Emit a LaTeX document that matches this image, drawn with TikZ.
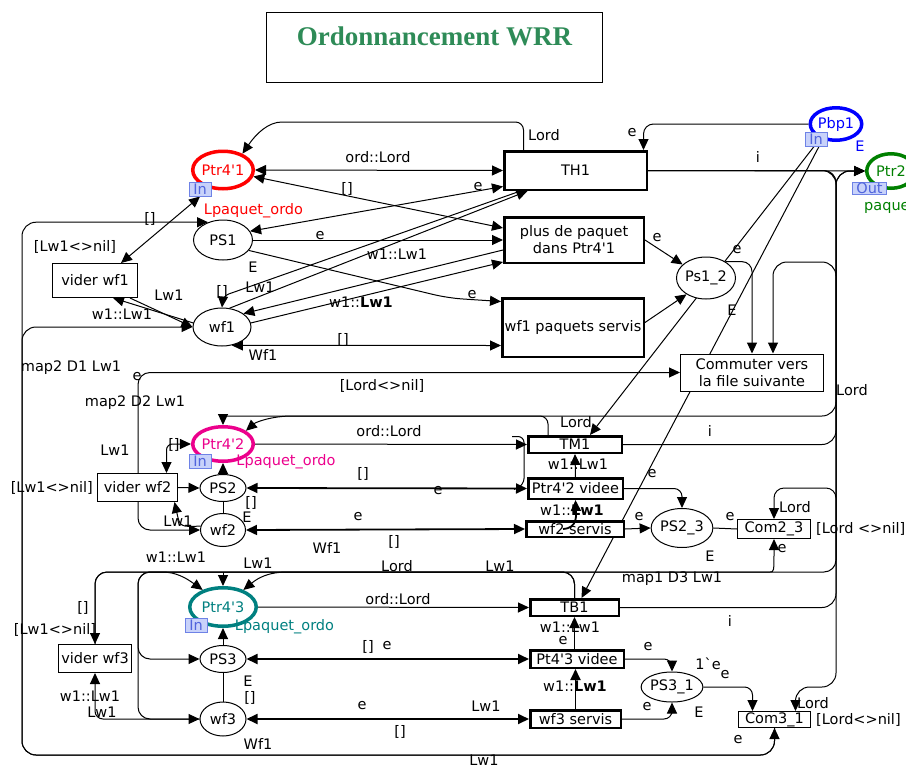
\documentclass[tikz,border=0pt]{standalone}
\usepackage{fontspec}
\setmainfont{DejaVu Sans}[Ligatures=TeXOff]
\newfontfamily\titlefont{Liberation Serif}
\usetikzlibrary{positioning, arrows.meta, backgrounds, shapes.geometric}
\definecolor{titlegreen}{RGB}{46,139,87}
\definecolor{ptrgreen}{RGB}{0,128,0}
\definecolor{ptrteal}{RGB}{0,128,128}
\definecolor{tagfill}{RGB}{200,210,250}
\definecolor{tagline}{RGB}{110,130,230}
\definecolor{tagtext}{RGB}{80,100,220}
\tikzstyle{every node}=[font=\fontsize{14.5}{17}\selectfont, inner sep=0pt]
\tikzstyle{place}=[draw,fill=white,ellipse,line width=1pt]
\tikzstyle{port}=[draw,fill=white,ellipse,line width=3.5pt]
\tikzstyle{block}=[draw,fill=white,rectangle,line width=2.5pt]
\tikzstyle{tblock}=[draw,fill=white,rectangle,line width=1pt]
\tikzstyle{tag}=[draw=tagline,fill=tagfill,text=tagtext,rectangle,line width=1pt,minimum width=22pt,minimum height=14pt]
\tikzstyle{con}=[line width=1pt]
\tikzstyle{bcon}=[line width=1.8pt]

\begin{document}
\begin{tikzpicture}[x=1pt,y=-1pt,>={Triangle[length=11pt,width=10pt]}]
    \useasboundingbox (0,0) rectangle (906,769);
    \node[draw,line width=1.5pt,minimum width=336pt,minimum height=70pt,text depth=22pt,
        font=\titlefont\bfseries\fontsize{27}{30}\selectfont,text=titlegreen] (title) at (434.5,47.5) {Ordonnancement WRR};
    % file 1
    \node[port,draw=red,text=red,minimum width=55.5pt,minimum height=37.5pt] (ptr1) at (223,170) {Ptr4'1};
    \node[tag] (in1) at (200,189) {In};
    \node[text=red] (lp1) at (253.5,211) {Lpaquet\_ordo};
    \node[place,minimum width=59pt,minimum height=40pt] (ps1) at (223,240) {PS1};
    \node[place,minimum width=58pt,minimum height=38pt] (wf1) at (222,327) {wf1};
    \node[tblock,minimum width=85pt,minimum height=34pt] (vid1) at (95,280.5) {vider wf1};
    \node (g1) at (75,247) {[Lw1<>nil]};
    \node[block,minimum width=142.5pt,minimum height=38.5pt] (th1) at (575.5,170.5) {TH1};
    \node[block,minimum width=139.5pt,minimum height=45.5pt,align=center] (plus1) at (574,240) {plus de paquet\\dans Ptr4'1};
    \node[block,minimum width=141.5pt,minimum height=58.5pt] (serv1) at (573,327.5) {wf1 paquets servis};
    \node[port,draw=blue,text=blue,minimum width=45.5pt,minimum height=32.5pt] (pbp1) at (836,124) {Pbp1};
    \node[tag] (in2) at (816,139) {In};
    \node[text=blue] (cs2) at (860,146) {E};
    \node[port,draw=ptrgreen,text=ptrgreen,minimum width=48.5pt,minimum height=34.5pt] (ptr2) at (891,171) {Ptr2};
    \node[tag,minimum width=34pt,minimum height=12pt] (out2) at (869.5,188.5) {Out};
    \node[text=ptrgreen,anchor=west] (pq2) at (864,207) {paquet};
    \node[place,minimum width=53pt,minimum height=42pt] (ps12) at (706,278) {Ps1\_2};
    \node[tblock,minimum width=143pt,minimum height=37pt,align=center] (commut) at (752,372.5) {Commuter vers\\la file suivante};
    % file 2
    \node[port,draw=magenta,text=magenta,minimum width=54.5pt,minimum height=34.5pt] (ptr4b) at (223,444) {Ptr4'2};
    \node[tag] (inB) at (200,461.5) {In};
    \node[text=magenta] (lpB) at (286,462) {Lpaquet\_ordo};
    \node[tblock,minimum width=80pt,minimum height=28pt] (vidB) at (137.5,487.5) {vider wf2};
    \node[left=4pt of vidB] (g2) {[Lw1<>nil]};
    \node[place,minimum width=46pt,minimum height=27pt] (ps2) at (223,488) {PS2};
    \node[place,minimum width=45pt,minimum height=33pt] (wf2) at (223,530) {wf2};
    \node[block,minimum width=93.5pt,minimum height=16.5pt] (tm1) at (575,444.5) {TM1};
    \node[block,minimum width=94.5pt,minimum height=20.5pt] (vide2) at (575.5,488.5) {Ptr4'2 videe};
    \node[block,minimum width=97.5pt,minimum height=15.5pt] (serv2) at (575,529) {wf2 servis};
    \node[place,minimum width=55pt,minimum height=39pt] (ps23) at (682,528) {PS2\_3};
    \node[tblock,minimum width=73pt,minimum height=19pt] (com23) at (774,529) {Com2\_3};
    \node[right=5pt of com23] (g4) {[Lord <>nil]};
    % file 3
    \node[port,draw=ptrteal,text=ptrteal,minimum width=66.5pt,minimum height=38.5pt] (ptr4c) at (223,607) {Ptr4'3};
    \node[tag] (inC) at (196,625.5) {In};
    \node[text=ptrteal] (lpC) at (284.5,627) {Lpaquet\_ordo};
    \node[tblock,minimum width=73pt,minimum height=28pt] (vid3) at (95,658.5) {vider wf3};
    \node (g3) at (55,630) {[Lw1<>nil]};
    \node[place,minimum width=46pt,minimum height=27pt] (ps3) at (223,659) {PS3};
    \node[place,minimum width=46pt,minimum height=34pt] (wf3) at (223,719) {wf3};
    \node[block,minimum width=88.5pt,minimum height=16.5pt] (tb1) at (574.5,607.5) {TB1};
    \node[block,minimum width=93.5pt,minimum height=17.5pt] (vide3) at (577,659) {Pt4'3 videe};
    \node[block,minimum width=90.5pt,minimum height=17.5pt] (serv3) at (575.5,719) {wf3 servis};
    \node[place,minimum width=57pt,minimum height=30pt] (ps31) at (672,687) {PS3\_1};
    \node[tblock,minimum width=72pt,minimum height=16pt] (com31) at (774.5,719.5) {Com3\_1};
    \node[right=5pt of com31] (g5) {[Lord<>nil]};
    % colour sets
    \node (cs1) at (253,267) {E};
    \node (cs12) at (732,310) {E};
    \node (cs23) at (710,556) {E};
    \node (cs31) at (699,712) {E};
    \node (cw1) at (263,355) {Wf1};
    \node (cw3) at (258,744) {Wf1};
    \coordinate (j2) at (223,416);
    \coordinate (j3) at (223,572);
    \coordinate (j23) at (836,560);

    \begin{scope}[on background layer]
    \draw[->,con,rounded corners=8pt] ([xshift=-52pt]th1.north) |- (290,122) .. controls (268,122) and (256,134) .. (ptr1.40) node at (544,135) {Lord};
    \draw[<->,con] (ptr1.east) -- (th1.west) node at (378,157) {ord::Lord};
    \draw[<->,con] (ptr1.-12) -- ([yshift=12pt]plus1.west) node at (347,189) {[]};
    \draw[<->,con] (ps1.18) -- ([yshift=-16pt]th1.west) node at (478,187) {e};
    \draw[->,con] (ps1.east) -- (plus1.west) node at (320,236) {e};
    \draw[->,con,rounded corners=14pt] (ps1.-22) -- (448,298) -- ([yshift=26pt]serv1.west) node at (472,295) {e};
    \draw[->,con,rounded corners=6pt] ([xshift=-55pt]th1.south) -- (223,296) -- (wf1.north) node at (222,292) {[]};
    \draw[->,con] (wf1.68) -- ([xshift=-48pt]th1.south) node at (260,287) {Lw1};
    \draw[->,con] ([yshift=-10pt]plus1.west) -- (wf1.32) node at (397,254) {w1::Lw1};
    \draw[->,con] (wf1.8) -- ([yshift=-22pt]plus1.west) node at (361,302) {w1::\textbf{Lw1}};
    \draw[<->,con] (wf1.-62) -- ([yshift=-18pt]serv1.west) node at (343,340) {[]};
    \draw[<->,con] (in1.south) -- ([xshift=26pt]vid1.north);
    \draw[<->,con,rounded corners=14pt] (com31.south) |- (22,755) |- (ps1.130) node at (150,219) {[]} node at (484,760) {Lw1} node at (738,740) {e};
    \draw[->,con,rounded corners=14pt] (com31.south) |- (22,755) |- (wf1.west) node at (71,368) {map2 D1 Lw1};
    \draw[->,con] (wf1.172) -- ([xshift=18pt]vid1.south) node at (122,314) {w1::Lw1};
    \draw[->,con] ([xshift=35pt]vid1.south) -- (wf1.west) node at (169,295) {Lw1};
    \draw[->,con,rounded corners=10pt] (pbp1.west) -| ([xshift=68pt]th1.north) node at (632,133) {e};
    \draw[->,con] (th1.east) -- (ptr2.west) node at (758,157) {i};
    \draw[->,con] ([xshift=-2pt]in2.south) -- ([xshift=15pt]tm1.north) node at (737,250) {e};
    \draw[->,con] ([xshift=3pt]in2.south) -- ([xshift=7pt]tb1.north);
    \draw[->,con,rounded corners=10pt] (ps12.40) -| (commut.north);
    \draw[->,con] (plus1.east) -- (ps12.150) node at (657,238) {e};
    \draw[->,con] ([yshift=5pt]serv1.east) -- (ps12.-140);
    % bus
    \draw[->,con,rounded corners=14pt] (th1.east) -| (836,687) -| ([xshift=21pt]com31.north) node at (852,390) {Lord} node at (813,703) {Lord};
    \draw[->,con,rounded corners=14pt] (tm1.east) -| (836,171) -- (ptr2.west) node at (710,431) {i};
    \draw[->,con,rounded corners=14pt] (tb1.east) -| (836,171) -- (ptr2.west) node at (730,621) {i};
    \draw[->,con,rounded corners=14pt] (j2) -| (836,262) -| ([xshift=21pt]commut.north);
    \draw[->,con] (j2) -- (ptr4b.north);
    \draw[->,con,rounded corners=10pt] (j23) -- (836,488) -| (com23.north) node at (795,507) {Lord};
    \draw[->,con,rounded corners=12pt] (th1.east) -| (836,572) -| (138,719) -- (wf3.west) node at (672,579) {map1 D3 Lw1};
    % file 2 arcs
    \draw[<->,con,rounded corners=12pt] (commut.west) -| (138,530) -- (wf2.west) node at (382,386) {[Lord<>nil]} node at (137,377) {e} node at (135,403) {map2 D2 Lw1};
    \draw[->,con] (vidB.east) -- (ps2.west);
    \draw[<->,con,rounded corners=6pt] (ptr4b.west) -| ([xshift=29pt]vidB.north) node at (174,445) {[]} node at (115,450) {Lw1};
    \draw[->,con] (wf2.170) .. controls (180,527) .. ([xshift=37pt]vidB.south) node at (178,521) {Lw1};
    \draw[->,con] (ps2.north) -- (ptr4b.south);
    \draw[con] (ps2.south) -- (wf2.north) node at (251,503) {[]} node at (247,517) {E};
    \draw[->,con] (ptr4b.east) -- (tm1.west) node at (389,431) {ord::Lord};
    \draw[<->,bcon] (ps2.east) -- (vide2.west) node at (363,474) {[]} node at (438,491) {e};
    \draw[<->,bcon] (wf2.east) -- (serv2.west) node at (358,517) {e} node at (394,542) {[]} node at (327,548) {Wf1};
    \draw[->,con,rounded corners=8pt] ([xshift=-27pt]tm1.north) |- (300,416) .. controls (272,416) and (256,422) .. (ptr4b.30) node at (576,422) {Lord};
    \draw[con,rounded corners=6pt] ([xshift=-15pt,yshift=8pt]tm1.west) -| ([xshift=-3pt,yshift=4pt]vide2.west) -- ([xshift=-13pt,yshift=-1pt]vide2.west);
    \draw[->,con] (vide2.north) -- (tm1.south) node at (578,464) {w1::Lw1};
    \draw[->,con,rounded corners=8pt] (vide2.east) -| (ps23.north) node at (652,474) {e};
    \draw[->,con] (serv2.east) -- (ps23.west) node at (639,517) {e};
    \draw[con] (ps23.east) -- (com23.west) node at (730,517) {e};
    % file 3 arcs
    \draw[<->,con,rounded corners=12pt] (ps3.west) -| (138,572) -- (758,572) .. controls (774,572) .. (com23.south) node at (782,549) {e};
    \draw[->,con,rounded corners=12pt] (tb1.north) |- (95,572) -- (vid3.north) node at (83,608) {[]} node at (397,566) {Lord};
    \draw[->,con,rounded corners=12pt] (tb1.north) |- (300,572) .. controls (268,572) and (258,578) .. (ptr4c.40) node at (258,563) {Lw1} node at (500,566) {Lw1};
    \draw[->,con,rounded corners=12pt] (vid3.north) |- (150,572) .. controls (176,572) and (186,578) .. (ptr4c.140) node at (176,557) {w1::Lw1};
    \draw[->,con] (j3) -- (ptr4c.north);
    \draw[->,con] (ptr4c.east) -- (tb1.west) node at (398,599) {ord::Lord};
    \draw[<->,bcon] (ps3.east) -- (vide3.west) node at (368,647) {[]} node at (387,646) {e};
    \draw[<->,bcon] (wf3.east) -- (serv3.west) node at (362,706) {e} node at (486,706) {Lw1} node at (400,732) {[]};
    \draw[->,bcon] (vide3.north -| tb1.south) -- (tb1.south) node at (570,627) {w1::Lw1} node at (563,641) {e};
    \draw[->,bcon] (serv3.north) -- (serv3.north |- vide3.south) node at (575,686) {w1::\textbf{Lw1}};
    \draw[->,con,rounded corners=8pt] (vide3.east) -| (ps31.north) node at (648,647) {e};
    \draw[->,con,rounded corners=8pt] (serv3.east) -| (ps31.south) node at (647,707) {e};
    \draw[->,con,rounded corners=8pt] (ps31.east) -| ([xshift=-22pt]com31.north) node at (708,664) {1`e} node at (725,675) {e};
    \draw[->,con] (ps3.north) -- (ptr4c.south);
    \draw[con] (ps3.south) -- (wf3.north) node at (248,681) {E} node at (250,698) {[]};
    \draw[->,con,rounded corners=8pt] (wf3.west) -| (vid3.south) node at (90,696) {w1::Lw1} node at (102,712) {Lw1};
    \end{scope}
    \draw[->,bcon] ([xshift=-12pt]serv2.center) .. controls (578,528) and (576,515) .. (vide2.south) node at (572,510) {w1::\textbf{Lw1}};
\end{tikzpicture}
\end{document}
